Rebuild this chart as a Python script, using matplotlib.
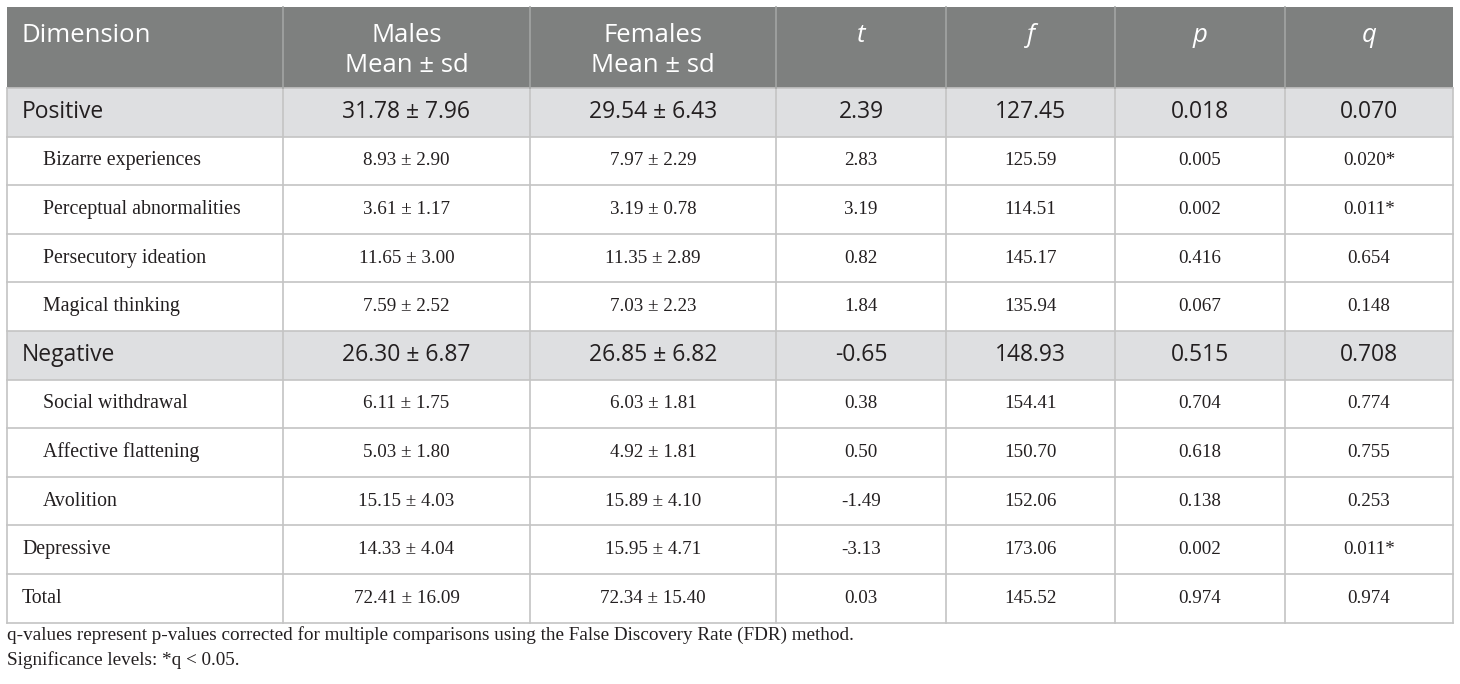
import matplotlib
matplotlib.use("Agg")
from matplotlib import pyplot as plt
from matplotlib.patches import Rectangle

# table content
headers = ["Dimension", "Males\nMean ± sd", "Females\nMean ± sd", "t", "f", "p", "q"]
dimensions = ["Positive", "Bizarre experiences", "Perceptual abnormalities",
              "Persecutory ideation", "Magical thinking", "Negative",
              "Social withdrawal", "Affective flattening", "Avolition",
              "Depressive", "Total"]
males = ["31.78 ± 7.96", "8.93 ± 2.90", "3.61 ± 1.17", "11.65 ± 3.00", "7.59 ± 2.52",
         "26.30 ± 6.87", "6.11 ± 1.75", "5.03 ± 1.80", "15.15 ± 4.03",
         "14.33 ± 4.04", "72.41 ± 16.09"]
females = ["29.54 ± 6.43", "7.97 ± 2.29", "3.19 ± 0.78", "11.35 ± 2.89", "7.03 ± 2.23",
           "26.85 ± 6.82", "6.03 ± 1.81", "4.92 ± 1.81", "15.89 ± 4.10",
           "15.95 ± 4.71", "72.34 ± 15.40"]
t_vals = ["2.39", "2.83", "3.19", "0.82", "1.84", "-0.65", "0.38", "0.50", "-1.49",
          "-3.13", "0.03"]
f_vals = ["127.45", "125.59", "114.51", "145.17", "135.94", "148.93", "154.41",
          "150.70", "152.06", "173.06", "145.52"]
p_vals = ["0.018", "0.005", "0.002", "0.416", "0.067", "0.515", "0.704", "0.618",
          "0.138", "0.002", "0.974"]
q_vals = ["0.070", "0.020*", "0.011*", "0.654", "0.148", "0.708", "0.774", "0.755",
          "0.253", "0.011*", "0.974"]
# row kind: 0 = summary (grey), 1 = indented sub-scale, 2 = plain
row_kind = [0, 1, 1, 1, 1, 0, 1, 1, 1, 2, 2]
footnotes = ["q-values represent p-values corrected for multiple comparisons using the False Discovery Rate (FDR) method.",
             "Significance levels: *q < 0.05."]

# layout (pixels)
col_edges = [7, 283, 530, 776, 946, 1115, 1285, 1453]
top = 7
header_h = 81
row_h = 48.6
sans = "Open Sans"
serif = "Liberation Serif"
header_bg = "#7e807f"
summary_bg = "#dedfe1"
line_col = "#c4c4c4"
text_col = "#231f20"

fig = plt.figure(figsize=(14.6, 6.84), dpi=100)
ax = fig.add_axes([0, 0, 1, 1])
ax.set_xlim(0, 1460)
ax.set_ylim(684, 0)
ax.axis("off")

left, right = col_edges[0], col_edges[-1]
ax.add_patch(Rectangle((left, top), right - left, header_h, color=header_bg, lw=0))

# header text
for i, h in enumerate(headers):
    x0, x1 = col_edges[i], col_edges[i + 1]
    if i == 0:
        ax.text(x0 + 15, top + 28, h, color="white", fontsize=18.5, family=sans,
                ha="left", va="center")
    elif "\n" in h:
        l1, l2 = h.split("\n")
        ax.text((x0 + x1) / 2, top + 28, l1, color="white", fontsize=18.5, family=sans,
                ha="center", va="center")
        ax.text((x0 + x1) / 2, top + 58, l2, color="white", fontsize=18.5, family=sans,
                ha="center", va="center")
    else:
        ax.text((x0 + x1) / 2, top + 28, h, color="white", fontsize=18.5, family=sans,
                style="italic", ha="center", va="center")

y0 = top + header_h
columns = [males, females, t_vals, f_vals, p_vals, q_vals]
for r, name in enumerate(dimensions):
    ry = y0 + r * row_h
    kind = row_kind[r]
    cy = ry + row_h / 2
    if kind == 0:
        ax.add_patch(Rectangle((left, ry), right - left, row_h, color=summary_bg, lw=0))
        fam, fs, name_fs, dx = sans, 16.5, 16.5, 15
    elif kind == 1:
        fam, fs, name_fs, dx = serif, 13.7, 14.3, 36
    else:
        fam, fs, name_fs, dx = serif, 13.7, 14.3, 15
    ax.text(left + dx, cy, name, fontsize=name_fs, family=fam, color=text_col,
            ha="left", va="center")
    for c, vals in enumerate(columns):
        x0, x1 = col_edges[c + 1], col_edges[c + 2]
        ax.text((x0 + x1) / 2, cy, vals[r], fontsize=fs, family=fam, color=text_col,
                ha="center", va="center")
    ax.plot([left, right], [ry, ry], color=line_col, lw=1.2)

bottom = y0 + len(dimensions) * row_h
ax.plot([left, right], [bottom, bottom], color=line_col, lw=1.2)

# vertical lines
for i, x in enumerate(col_edges):
    ax.plot([x, x], [y0, bottom], color=line_col, lw=1.2)
    if 0 < i < len(col_edges) - 1:
        ax.plot([x, x], [top, y0], color="#a3a5a4", lw=1.2)

for k, note in enumerate(footnotes):
    ax.text(left, bottom + 12 + k * 25, note, fontsize=13.8, family=serif,
            color=text_col, ha="left", va="center")

fig.savefig("out.png", dpi=100)
